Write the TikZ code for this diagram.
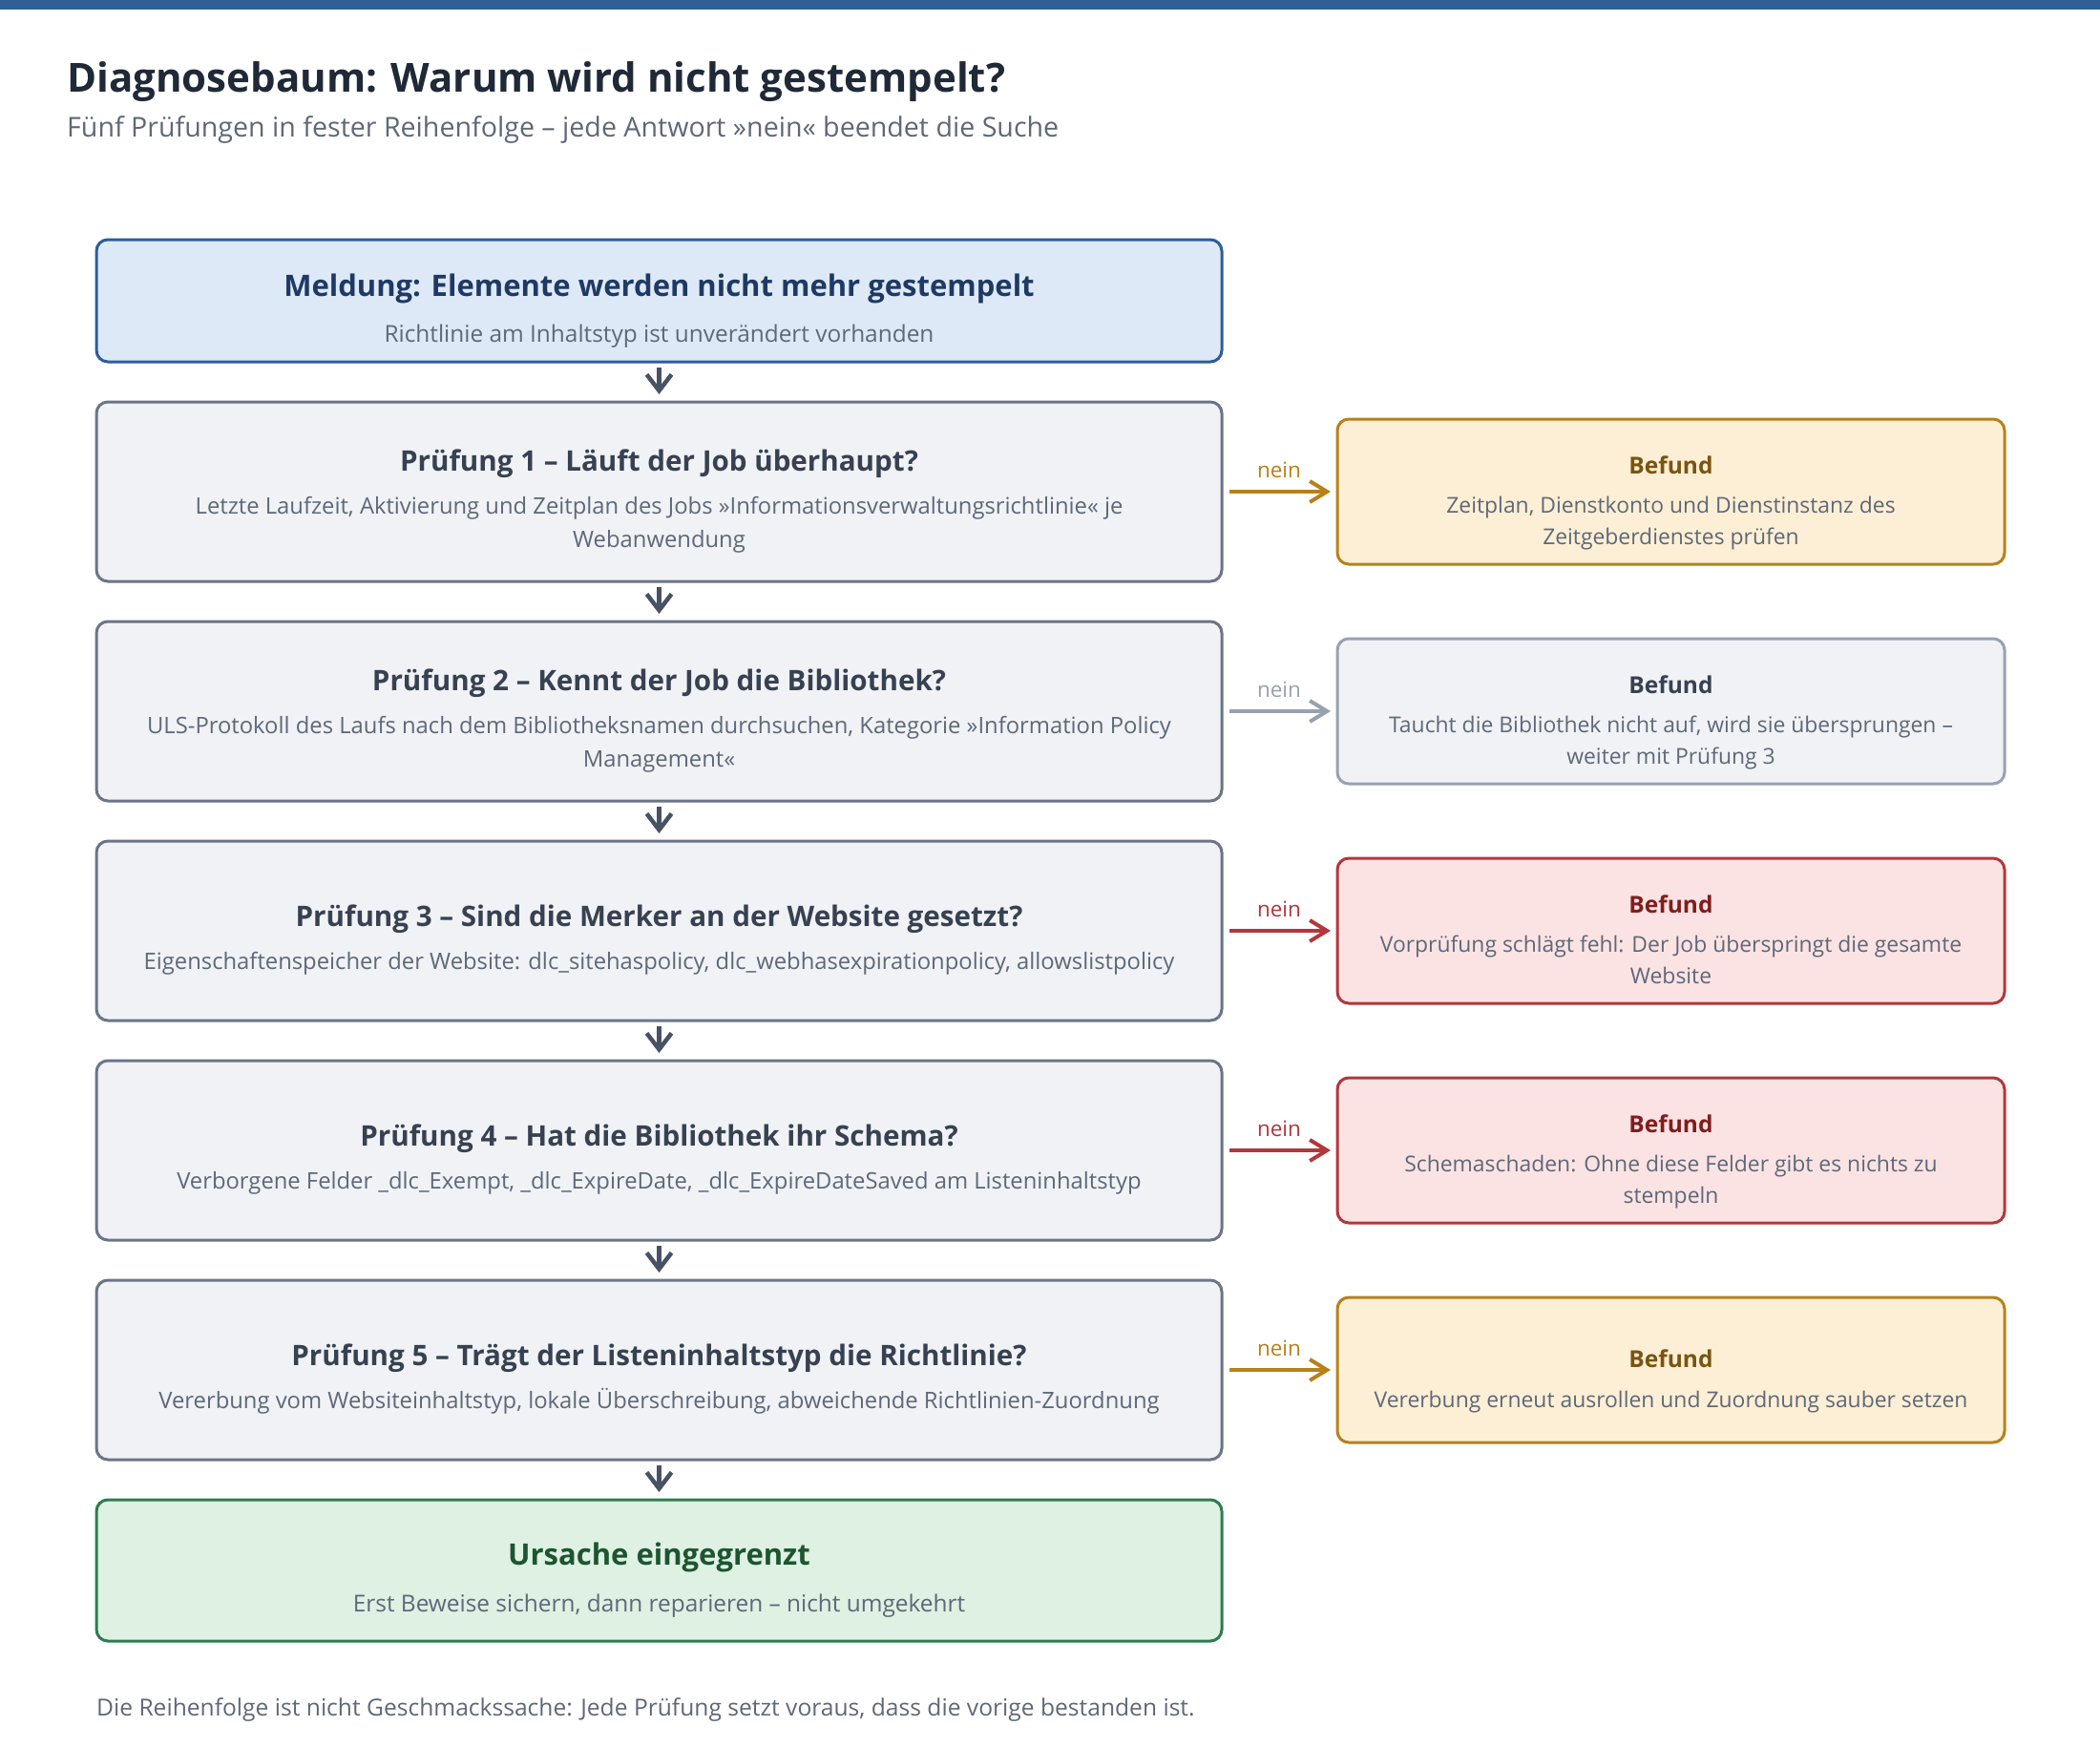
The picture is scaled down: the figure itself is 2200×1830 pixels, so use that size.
\documentclass[tikz,border=0pt]{standalone}
\usepackage{fontspec}
\setmainfont{Open Sans}
\usetikzlibrary{arrows.meta,calc}
\definecolor{topbar}{HTML}{2E5F96}
\definecolor{headtext}{HTML}{1F2937}
\definecolor{subtext}{HTML}{5E6878}
\definecolor{melFill}{HTML}{DEE9F7}
\definecolor{melStroke}{HTML}{2C5D98}
\definecolor{melText}{HTML}{1E3A64}
\definecolor{chkFill}{HTML}{F0F2F6}
\definecolor{chkStroke}{HTML}{6B7587}
\definecolor{chkText}{HTML}{374151}
\definecolor{darkArrow}{HTML}{475264}
\definecolor{ambFill}{HTML}{FDEFD5}
\definecolor{ambStroke}{HTML}{B7811B}
\definecolor{ambText}{HTML}{7A5410}
\definecolor{grayStroke}{HTML}{98A1AF}
\definecolor{redFill}{HTML}{FBE3E4}
\definecolor{redStroke}{HTML}{B3373B}
\definecolor{redText}{HTML}{7F1D1F}
\definecolor{grnFill}{HTML}{DEF1E2}
\definecolor{grnStroke}{HTML}{2E7D4E}
\definecolor{grnText}{HTML}{1D5530}
\tikzset{
  mainbox/.style={rounded corners=12pt, line width=3pt, minimum width=1179pt, inner sep=0pt, outer sep=0pt},
  befbox/.style={rounded corners=12pt, line width=3pt, minimum width=699pt, minimum height=152pt, inner sep=0pt, outer sep=0pt},
  boxtitle/.style={anchor=base, inner sep=0pt, font=\fontsize{29.6pt}{34pt}\selectfont\bfseries},
  boxdesc/.style={anchor=base, inner sep=0pt, text=subtext, font=\fontsize{23.8pt}{28pt}\selectfont},
  termtitle/.style={anchor=base, inner sep=0pt, font=\fontsize{31pt}{36pt}\selectfont\bfseries},
  termdesc/.style={anchor=base, inner sep=0pt, text=subtext, font=\fontsize{24.4pt}{29pt}\selectfont},
  beftitle/.style={anchor=base, inner sep=0pt, font=\fontsize{24.5pt}{30pt}\selectfont\bfseries},
  befdesc/.style={anchor=base, inner sep=0pt, text=subtext, font=\fontsize{22.9pt}{27pt}\selectfont},
  neinlabel/.style={anchor=base, inner sep=0pt, font=\fontsize{22.5pt}{26pt}\selectfont},
  downarrow/.style={draw=darkArrow, line width=4.5pt, -{Straight Barb[length=17pt, width=26pt, line width=4.5pt]}},
  sidearrow/.style={line width=4pt, -{Straight Barb[length=18pt, width=22pt, line width=4pt]}}
}
\begin{document}
\begin{tikzpicture}[x=1pt, y=-1pt]
\useasboundingbox (0,0) rectangle (2200,1830);
\fill[white] (0,0) rectangle (2200,1830);
\fill[topbar] (0,0) rectangle (2200,10);
\node[anchor=base west, inner sep=0pt, text=headtext, font=\fontsize{42pt}{48pt}\selectfont\bfseries] (title) at (70,97) {Diagnosebaum: Warum wird nicht gestempelt?};
\node[anchor=base west, inner sep=0pt, text=subtext, font=\fontsize{28.6pt}{33pt}\selectfont] (subtitle) at (70,144) {Fünf Prüfungen in fester Reihenfolge – jede Antwort »nein« beendet die Suche};

% main column
\node[mainbox, draw=melStroke, fill=melFill, minimum height=128pt] (mel) at (690.5,315) {};
\node[termtitle, text=melText] (melT) at (690.5,310) {Meldung: Elemente werden nicht mehr gestempelt};
\node[termdesc] (melD) at (690.5,358) {Richtlinie am Inhaltstyp ist unverändert vorhanden};

\node[mainbox, draw=chkStroke, fill=chkFill, minimum height=188pt] (p1) at (690.5,515) {};
\node[boxtitle, text=chkText] (p1T) at (690.5,493) {Prüfung 1 – Läuft der Job überhaupt?};
\node[boxdesc] (p1D) at (690.5,538) {Letzte Laufzeit, Aktivierung und Zeitplan des Jobs »Informationsverwaltungsrichtlinie« je};
\node[boxdesc] (p1E) at (690.5,573) {Webanwendung};

\node[mainbox, draw=chkStroke, fill=chkFill, minimum height=188pt] (p2) at (690.5,745) {};
\node[boxtitle, text=chkText] (p2T) at (690.5,723) {Prüfung 2 – Kennt der Job die Bibliothek?};
\node[boxdesc] (p2D) at (690.5,768) {ULS-Protokoll des Laufs nach dem Bibliotheksnamen durchsuchen, Kategorie »Information Policy};
\node[boxdesc] (p2E) at (690.5,803) {Management«};

\node[mainbox, draw=chkStroke, fill=chkFill, minimum height=188pt] (p3) at (690.5,975) {};
\node[boxtitle, text=chkText] (p3T) at (690.5,970) {Prüfung 3 – Sind die Merker an der Website gesetzt?};
\node[boxdesc] (p3D) at (690.5,1015) {Eigenschaftenspeicher der Website: dlc\_sitehaspolicy, dlc\_webhasexpirationpolicy, allowslistpolicy};

\node[mainbox, draw=chkStroke, fill=chkFill, minimum height=188pt] (p4) at (690.5,1205) {};
\node[boxtitle, text=chkText] (p4T) at (690.5,1200) {Prüfung 4 – Hat die Bibliothek ihr Schema?};
\node[boxdesc] (p4D) at (690.5,1245) {Verborgene Felder \_dlc\_Exempt, \_dlc\_ExpireDate, \_dlc\_ExpireDateSaved am Listeninhaltstyp};

\node[mainbox, draw=chkStroke, fill=chkFill, minimum height=188pt] (p5) at (690.5,1435) {};
\node[boxtitle, text=chkText] (p5T) at (690.5,1430) {Prüfung 5 – Trägt der Listeninhaltstyp die Richtlinie?};
\node[boxdesc] (p5D) at (690.5,1475) {Vererbung vom Websiteinhaltstyp, lokale Überschreibung, abweichende Richtlinien-Zuordnung};

\node[mainbox, draw=grnStroke, fill=grnFill, minimum height=148pt] (urs) at (690.5,1645) {};
\node[termtitle, text=grnText] (ursT) at (690.5,1639) {Ursache eingegrenzt};
\node[termdesc] (ursD) at (690.5,1688) {Erst Beweise sichern, dann reparieren – nicht umgekehrt};

% down arrows
\draw[downarrow] ([yshift=-6pt]mel.south) -- ([yshift=8pt]p1.north);
\draw[downarrow] ([yshift=-6pt]p1.south) -- ([yshift=8pt]p2.north);
\draw[downarrow] ([yshift=-6pt]p2.south) -- ([yshift=8pt]p3.north);
\draw[downarrow] ([yshift=-6pt]p3.south) -- ([yshift=8pt]p4.north);
\draw[downarrow] ([yshift=-6pt]p4.south) -- ([yshift=8pt]p5.north);
\draw[downarrow] ([yshift=-6pt]p5.south) -- ([yshift=8pt]urs.north);

% findings
\node[befbox, draw=ambStroke, fill=ambFill] (b1) at (1750.5,515) {};
\node[beftitle, text=ambText] (b1T) at (1750.5,496) {Befund};
\node[befdesc] (b1D) at (1750.5,537) {Zeitplan, Dienstkonto und Dienstinstanz des};
\node[befdesc] (b1E) at (1750.5,570) {Zeitgeberdienstes prüfen};

\node[befbox, draw=grayStroke, fill=chkFill] (b2) at (1750.5,745) {};
\node[beftitle, text=chkText] (b2T) at (1750.5,726) {Befund};
\node[befdesc] (b2D) at (1750.5,767) {Taucht die Bibliothek nicht auf, wird sie übersprungen –};
\node[befdesc] (b2E) at (1750.5,800) {weiter mit Prüfung 3};

\node[befbox, draw=redStroke, fill=redFill] (b3) at (1750.5,975) {};
\node[beftitle, text=redText] (b3T) at (1750.5,956) {Befund};
\node[befdesc] (b3D) at (1750.5,997) {Vorprüfung schlägt fehl: Der Job überspringt die gesamte};
\node[befdesc] (b3E) at (1750.5,1030) {Website};

\node[befbox, draw=redStroke, fill=redFill] (b4) at (1750.5,1205) {};
\node[beftitle, text=redText] (b4T) at (1750.5,1186) {Befund};
\node[befdesc] (b4D) at (1750.5,1227) {Schemaschaden: Ohne diese Felder gibt es nichts zu};
\node[befdesc] (b4E) at (1750.5,1260) {stempeln};

\node[befbox, draw=ambStroke, fill=ambFill] (b5) at (1750.5,1435) {};
\node[beftitle, text=ambText] (b5T) at (1750.5,1432) {Befund};
\node[befdesc] (b5D) at (1750.5,1474) {Vererbung erneut ausrollen und Zuordnung sauber setzen};

% side arrows
\draw[sidearrow, draw=ambStroke] ([xshift=8pt]p1.east) -- ([xshift=-7pt]b1.west);
\node[neinlabel, text=ambStroke] (n1) at (1340,500) {nein};
\draw[sidearrow, draw=grayStroke] ([xshift=8pt]p2.east) -- ([xshift=-7pt]b2.west);
\node[neinlabel, text=grayStroke] (n2) at (1340,730) {nein};
\draw[sidearrow, draw=redStroke] ([xshift=8pt]p3.east) -- ([xshift=-7pt]b3.west);
\node[neinlabel, text=redStroke] (n3) at (1340,960) {nein};
\draw[sidearrow, draw=redStroke] ([xshift=8pt]p4.east) -- ([xshift=-7pt]b4.west);
\node[neinlabel, text=redStroke] (n4) at (1340,1190) {nein};
\draw[sidearrow, draw=ambStroke] ([xshift=8pt]p5.east) -- ([xshift=-7pt]b5.west);
\node[neinlabel, text=ambStroke] (n5) at (1340,1420) {nein};

\node[anchor=base west, inner sep=0pt, text=subtext, font=\fontsize{24.6pt}{29pt}\selectfont] (footer) at (101,1797) {Die Reihenfolge ist nicht Geschmackssache: Jede Prüfung setzt voraus, dass die vorige bestanden ist.};
\end{tikzpicture}
\end{document}
